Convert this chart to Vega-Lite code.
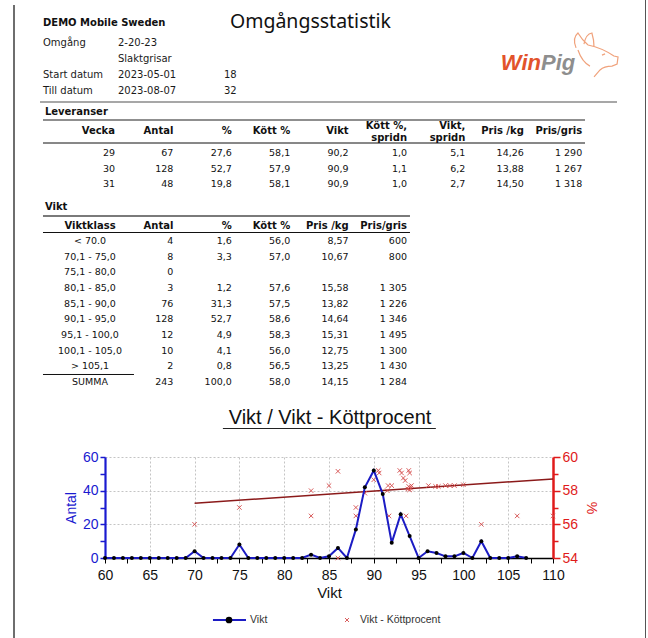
{
"$schema": "https://vega.github.io/schema/vega-lite/v6.json",
"padding": 0,
"spacing": 0,
"bounds": "full",
"config": {
  "view": {"stroke": null},
  "locale": {"number": {"decimal": ",", "thousands": "\u00a0", "grouping": [3], "currency": ["", ""]}}
},
"datasets": {
  "huvud": [
    {"Etikett": "Omgång", "Värde": "2-20-23", "Vecka": null},
    {"Etikett": "", "Värde": "Slaktgrisar", "Vecka": null},
    {"Etikett": "Start datum", "Värde": "2023-05-01", "Vecka": 18},
    {"Etikett": "Till datum", "Värde": "2023-08-07", "Vecka": 32}
  ],
  "leveranser": [
    {"Vecka": 29, "Antal": 67, "%": 27.6, "Kött %": 58.1, "Vikt": 90.2, "Kött %, spridn": 1.0, "Vikt, spridn": 5.1, "Pris /kg": 14.26, "Pris/gris": 1290},
    {"Vecka": 30, "Antal": 128, "%": 52.7, "Kött %": 57.9, "Vikt": 90.9, "Kött %, spridn": 1.1, "Vikt, spridn": 6.2, "Pris /kg": 13.88, "Pris/gris": 1267},
    {"Vecka": 31, "Antal": 48, "%": 19.8, "Kött %": 58.1, "Vikt": 90.9, "Kött %, spridn": 1.0, "Vikt, spridn": 2.7, "Pris /kg": 14.50, "Pris/gris": 1318}
  ],
  "viktklasser": [
    {"Viktklass": "< 70.0", "Antal": 4, "%": 1.6, "Kött %": 56.0, "Pris /kg": 8.57, "Pris/gris": 600},
    {"Viktklass": "70,1 - 75,0", "Antal": 8, "%": 3.3, "Kött %": 57.0, "Pris /kg": 10.67, "Pris/gris": 800},
    {"Viktklass": "75,1 - 80,0", "Antal": 0, "%": null, "Kött %": null, "Pris /kg": null, "Pris/gris": null},
    {"Viktklass": "80,1 - 85,0", "Antal": 3, "%": 1.2, "Kött %": 57.6, "Pris /kg": 15.58, "Pris/gris": 1305},
    {"Viktklass": "85,1 - 90,0", "Antal": 76, "%": 31.3, "Kött %": 57.5, "Pris /kg": 13.82, "Pris/gris": 1226},
    {"Viktklass": "90,1 - 95,0", "Antal": 128, "%": 52.7, "Kött %": 58.6, "Pris /kg": 14.64, "Pris/gris": 1346},
    {"Viktklass": "95,1 - 100,0", "Antal": 12, "%": 4.9, "Kött %": 58.3, "Pris /kg": 15.31, "Pris/gris": 1495},
    {"Viktklass": "100,1 - 105,0", "Antal": 10, "%": 4.1, "Kött %": 56.0, "Pris /kg": 12.75, "Pris/gris": 1300},
    {"Viktklass": "> 105,1", "Antal": 2, "%": 0.8, "Kött %": 56.5, "Pris /kg": 13.25, "Pris/gris": 1430},
    {"Viktklass": "SUMMA", "Antal": 243, "%": 100.0, "Kött %": 58.0, "Pris /kg": 14.15, "Pris/gris": 1284}
  ],
  "viktkurva": [
    {"Vikt": 60, "Antal": 0}, {"Vikt": 61, "Antal": 0}, {"Vikt": 62, "Antal": 0}, {"Vikt": 63, "Antal": 0}, {"Vikt": 64, "Antal": 0},
    {"Vikt": 65, "Antal": 0}, {"Vikt": 66, "Antal": 0}, {"Vikt": 67, "Antal": 0}, {"Vikt": 68, "Antal": 0}, {"Vikt": 69, "Antal": 0},
    {"Vikt": 70, "Antal": 4}, {"Vikt": 71, "Antal": 0}, {"Vikt": 72, "Antal": 0}, {"Vikt": 73, "Antal": 0}, {"Vikt": 74, "Antal": 0},
    {"Vikt": 75, "Antal": 8}, {"Vikt": 76, "Antal": 0}, {"Vikt": 77, "Antal": 0}, {"Vikt": 78, "Antal": 0}, {"Vikt": 79, "Antal": 0},
    {"Vikt": 80, "Antal": 0}, {"Vikt": 81, "Antal": 0}, {"Vikt": 82, "Antal": 0}, {"Vikt": 83, "Antal": 2}, {"Vikt": 84, "Antal": 0},
    {"Vikt": 85, "Antal": 1}, {"Vikt": 86, "Antal": 6}, {"Vikt": 87, "Antal": 0}, {"Vikt": 88, "Antal": 17}, {"Vikt": 89, "Antal": 42},
    {"Vikt": 90, "Antal": 52}, {"Vikt": 91, "Antal": 38}, {"Vikt": 92, "Antal": 9}, {"Vikt": 93, "Antal": 26}, {"Vikt": 94, "Antal": 13},
    {"Vikt": 95, "Antal": 0}, {"Vikt": 96, "Antal": 4}, {"Vikt": 97, "Antal": 3}, {"Vikt": 98, "Antal": 1}, {"Vikt": 99, "Antal": 1},
    {"Vikt": 100, "Antal": 3}, {"Vikt": 101, "Antal": 0}, {"Vikt": 102, "Antal": 10}, {"Vikt": 103, "Antal": 0}, {"Vikt": 104, "Antal": 0},
    {"Vikt": 105, "Antal": 0}, {"Vikt": 106, "Antal": 1}, {"Vikt": 107, "Antal": 0}
  ],
  "kottprocent": [
    {"Vikt": 70, "Kött": 56.0}, {"Vikt": 75, "Kött": 57.0}, {"Vikt": 83, "Kött": 58.0}, {"Vikt": 83, "Kött": 56.5},
    {"Vikt": 85, "Kött": 58.3}, {"Vikt": 86, "Kött": 59.15}, {"Vikt": 86, "Kött": 54.0}, {"Vikt": 88, "Kött": 57.0},
    {"Vikt": 88, "Kött": 56.5}, {"Vikt": 89, "Kött": 57.85}, {"Vikt": 90, "Kött": 58.65}, {"Vikt": 90.5, "Kött": 59.2},
    {"Vikt": 90.6, "Kött": 59.05}, {"Vikt": 91.5, "Kött": 58.0}, {"Vikt": 91.6, "Kött": 58.3}, {"Vikt": 92, "Kött": 58.3},
    {"Vikt": 91.7, "Kött": 56.5}, {"Vikt": 92.9, "Kött": 59.2}, {"Vikt": 93.1, "Kött": 59.05}, {"Vikt": 93.3, "Kött": 58.75},
    {"Vikt": 93.5, "Kött": 58.6}, {"Vikt": 93.6, "Kött": 56.5}, {"Vikt": 93.9, "Kött": 59.2}, {"Vikt": 94, "Kött": 59.05},
    {"Vikt": 93.9, "Kött": 58.25}, {"Vikt": 94.1, "Kött": 58.15}, {"Vikt": 94, "Kött": 58.05}, {"Vikt": 93.8, "Kött": 58.1},
    {"Vikt": 94.2, "Kött": 58.3}, {"Vikt": 96.1, "Kött": 58.3}, {"Vikt": 96.9, "Kött": 58.25}, {"Vikt": 97.2, "Kött": 58.25},
    {"Vikt": 98, "Kött": 58.3}, {"Vikt": 98.5, "Kött": 58.3}, {"Vikt": 99, "Kött": 58.3}, {"Vikt": 100, "Kött": 58.35},
    {"Vikt": 102, "Kött": 56.0}, {"Vikt": 106, "Kött": 56.5}, {"Vikt": 110, "Kött": 56.5}
  ],
  "trend": [
    {"Vikt": 70, "Kött": 57.25}, {"Vikt": 110, "Kött": 58.7}
  ],
  "serier": [
    {"Serie": "Vikt"}, {"Serie": "Vikt - Köttprocent"}
  ]
},
"hconcat": [
  {"width": 13, "height": 638, "data": {"values": []}, "mark": "point"},
  {"vconcat": [
     {"width": 2, "height": 5, "data": {"values": []}, "mark": "point"},
     {"width": 2, "height": 633, "data": {"values": []}, "mark": "point", "view": {"fill": "#6e6e6e", "stroke": null}}
   ], "spacing": 0, "bounds": "flush"},
  {"vconcat": [
    {
      "width": 630, "height": 98,
      "layer": [
        {
          "data": {"name": "huvud"},
          "transform": [
            {"window": [{"op": "row_number", "as": "rad"}]},
            {"fold": ["Etikett", "Värde"], "as": ["falt", "text"]},
            {"filter": "datum.text !== ''"},
            {"calculate": "indexof(['Etikett','Värde'], datum.falt)", "as": "kol"}
          ],
          "mark": {"type": "text", "align": "left", "baseline": "middle", "font": "DejaVu Sans", "fontSize": 10, "color": "#1a1a1a"},
          "encoding": {
            "x": {"field": "kol", "type": "quantitative", "scale": {"domain": [-0.3733, 8.0267], "nice": false, "zero": false}, "axis": null},
            "y": {"field": "rad", "type": "quantitative", "scale": {"domain": [-1.6875, 4.4375], "reverse": true, "nice": false, "zero": false}, "axis": null},
            "text": {"field": "text"}
          }
        },
        {
          "data": {"name": "huvud"},
          "transform": [
            {"window": [{"op": "row_number", "as": "rad"}]},
            {"filter": "isValid(datum.Vecka)"}
          ],
          "mark": {"type": "text", "align": "left", "baseline": "middle", "font": "DejaVu Sans", "fontSize": 10, "color": "#1a1a1a"},
          "encoding": {
            "x": {"datum": 2.413, "type": "quantitative", "scale": {"domain": [-0.3733, 8.0267], "nice": false, "zero": false}, "axis": null},
            "y": {"field": "rad", "type": "quantitative", "scale": {"domain": [-1.6875, 4.4375], "reverse": true, "nice": false, "zero": false}, "axis": null},
            "text": {"field": "Vecka"}
          }
        },
        {
          "data": {"values": [{"Företag": "DEMO Mobile Sweden"}]},
          "mark": {"type": "text", "align": "left", "baseline": "middle", "font": "DejaVu Sans", "fontSize": 10, "fontWeight": "bold", "color": "#111111"},
          "encoding": {
            "x": {"datum": 0, "type": "quantitative", "scale": {"domain": [-0.3733, 8.0267], "nice": false, "zero": false}, "axis": null},
            "y": {"datum": -0.25, "type": "quantitative", "scale": {"domain": [-1.6875, 4.4375], "reverse": true, "nice": false, "zero": false}, "axis": null},
            "text": {"field": "Företag"}
          }
        },
        {
          "data": {"values": [{"Rubrik": "Omgångsstatistik"}]},
          "mark": {"type": "text", "align": "left", "baseline": "middle", "font": "Noto Sans", "fontSize": 19.5, "color": "#111111"},
          "encoding": {
            "x": {"datum": 2.493, "type": "quantitative", "scale": {"domain": [-0.3733, 8.0267], "nice": false, "zero": false}, "axis": null},
            "y": {"datum": -0.3125, "type": "quantitative", "scale": {"domain": [-1.6875, 4.4375], "reverse": true, "nice": false, "zero": false}, "axis": null},
            "text": {"field": "Rubrik"}
          }
        },
        {
          "data": {"values": [{"Logo": "Win"}]},
          "mark": {"type": "text", "align": "right", "baseline": "alphabetic", "font": "Liberation Sans", "fontSize": 22, "fontWeight": "bold", "fontStyle": "italic", "color": "#e2532b"},
          "encoding": {
            "x": {"datum": 6.64, "type": "quantitative", "scale": {"domain": [-0.3733, 8.0267], "nice": false, "zero": false}, "axis": null},
            "y": {"datum": 2.69, "type": "quantitative", "scale": {"domain": [-1.6875, 4.4375], "reverse": true, "nice": false, "zero": false}, "axis": null},
            "text": {"field": "Logo"}
          }
        },
        {
          "data": {"values": [{"Logo": "Pig"}]},
          "mark": {"type": "text", "align": "left", "baseline": "alphabetic", "font": "Liberation Sans", "fontSize": 22, "fontWeight": "bold", "fontStyle": "italic", "color": "#8e8e8e"},
          "encoding": {
            "x": {"datum": 6.64, "type": "quantitative", "scale": {"domain": [-0.3733, 8.0267], "nice": false, "zero": false}, "axis": null},
            "y": {"datum": 2.69, "type": "quantitative", "scale": {"domain": [-1.6875, 4.4375], "reverse": true, "nice": false, "zero": false}, "axis": null},
            "text": {"field": "Logo"}
          }
        },
        {
          "data": {"values": [{"Logo": "gris"}]},
          "mark": {"type": "point", "filled": false, "stroke": "#f0a27c", "strokeWidth": 1.2, "size": 2304, "opacity": 1,
                   "shape": "M-0.79,-0.38Q-0.96,-0.79,-0.71,-1Q-0.54,-0.71,-0.29,-0.5M-0.46,-0.54Q-0.38,-0.96,-0.13,-1Q-0.04,-0.71,-0.04,-0.42M-0.29,-0.5Q0.29,-0.38,0.79,-0.04L0.96,0L0.92,0.29L0.71,0.38Q0.38,0.38,0.21,0.54L-0.04,0.83M-0.71,-0.29Q-0.54,0.21,-0.21,0.38M0.29,-0.08L0.42,-0.13"},
          "encoding": {
            "x": {"datum": 7.36, "type": "quantitative", "scale": {"domain": [-0.3733, 8.0267], "nice": false, "zero": false}, "axis": null},
            "y": {"datum": 1.875, "type": "quantitative", "scale": {"domain": [-1.6875, 4.4375], "reverse": true, "nice": false, "zero": false}, "axis": null}
          }
        }
      ]
    },
    {
      "width": 630, "height": 98,
      "layer": [
        {
          "data": {"values": [{}]},
          "mark": {"type": "rule", "color": "#8a8a8a", "strokeWidth": 1.5},
          "encoding": {
            "x": {"datum": -1.284, "type": "quantitative", "scale": {"domain": [-1.7123, 9.0753], "nice": false, "zero": false}, "axis": null},
            "x2": {"datum": 8.596},
            "y": {"datum": -2.29, "type": "quantitative", "scale": {"domain": [-2.548, 3.774], "reverse": true, "nice": false, "zero": false}, "axis": null}
          }
        },
        {
          "data": {"values": [{}]},
          "mark": {"type": "rule", "color": "#6a6a6a", "strokeWidth": 1.4},
          "encoding": {
            "x": {"datum": -1.233, "type": "quantitative", "scale": {"domain": [-1.7123, 9.0753], "nice": false, "zero": false}, "axis": null},
            "x2": {"datum": 8.048},
            "y": {"datum": -1.129, "type": "quantitative", "scale": {"domain": [-2.548, 3.774], "reverse": true, "nice": false, "zero": false}, "axis": null}
          }
        },
        {
          "data": {"values": [{}]},
          "mark": {"type": "rule", "color": "#111111", "strokeWidth": 1},
          "encoding": {
            "x": {"datum": -1.233, "type": "quantitative", "scale": {"domain": [-1.7123, 9.0753], "nice": false, "zero": false}, "axis": null},
            "x2": {"datum": 8.048},
            "y": {"datum": 0.355, "type": "quantitative", "scale": {"domain": [-2.548, 3.774], "reverse": true, "nice": false, "zero": false}, "axis": null}
          }
        },
        {
          "data": {"values": [{"Avsnitt": "Leveranser"}]},
          "mark": {"type": "text", "align": "left", "baseline": "middle", "font": "DejaVu Sans", "fontSize": 10, "fontWeight": "bold", "color": "#111111"},
          "encoding": {
            "x": {"datum": -1.2, "type": "quantitative", "scale": {"domain": [-1.7123, 9.0753], "nice": false, "zero": false}, "axis": null},
            "y": {"datum": -1.613, "type": "quantitative", "scale": {"domain": [-2.548, 3.774], "reverse": true, "nice": false, "zero": false}, "axis": null},
            "text": {"field": "Avsnitt"}
          }
        },
        {
          "data": {"name": "leveranser"},
          "transform": [
            {"window": [{"op": "row_number", "as": "rad"}]},
            {"filter": "datum.rad === 1"},
            {"fold": ["Vecka", "Antal", "%", "Kött %", "Vikt", "Pris /kg", "Pris/gris"]},
            {"calculate": "indexof(['Vecka','Antal','%','Kött %','Vikt','Kött %, spridn','Vikt, spridn','Pris /kg','Pris/gris'], datum.key)", "as": "kol"}
          ],
          "mark": {"type": "text", "align": "right", "baseline": "middle", "font": "DejaVu Sans", "fontSize": 10, "fontWeight": "bold", "color": "#111111"},
          "encoding": {
            "x": {"field": "kol", "type": "quantitative", "scale": {"domain": [-1.7123, 9.0753], "nice": false, "zero": false}, "axis": null},
            "y": {"datum": -0.42, "type": "quantitative", "scale": {"domain": [-2.548, 3.774], "reverse": true, "nice": false, "zero": false}, "axis": null},
            "text": {"field": "key"}
          }
        },
        {
          "data": {"name": "leveranser"},
          "transform": [
            {"window": [{"op": "row_number", "as": "rad"}]},
            {"filter": "datum.rad === 1"},
            {"fold": ["Kött %, spridn", "Vikt, spridn"]},
            {"calculate": "indexof(['Vecka','Antal','%','Kött %','Vikt','Kött %, spridn','Vikt, spridn','Pris /kg','Pris/gris'], datum.key)", "as": "kol"},
            {"calculate": "replace(datum.key, ', ', ',\\n')", "as": "rubrik"}
          ],
          "mark": {"type": "text", "align": "right", "baseline": "middle", "font": "DejaVu Sans", "fontSize": 10, "fontWeight": "bold", "lineBreak": "\n", "lineHeight": 11.5, "color": "#111111"},
          "encoding": {
            "x": {"field": "kol", "type": "quantitative", "scale": {"domain": [-1.7123, 9.0753], "nice": false, "zero": false}, "axis": null},
            "y": {"datum": -0.71, "type": "quantitative", "scale": {"domain": [-2.548, 3.774], "reverse": true, "nice": false, "zero": false}, "axis": null},
            "text": {"field": "rubrik"}
          }
        },
        {
          "data": {"name": "leveranser"},
          "transform": [
            {"window": [{"op": "row_number", "as": "rad"}]},
            {"fold": ["Vecka", "Antal", "Pris/gris"]},
            {"calculate": "indexof(['Vecka','Antal','%','Kött %','Vikt','Kött %, spridn','Vikt, spridn','Pris /kg','Pris/gris'], datum.key)", "as": "kol"}
          ],
          "mark": {"type": "text", "align": "right", "baseline": "middle", "font": "DejaVu Sans", "fontSize": 9.5, "color": "#111111"},
          "encoding": {
            "x": {"field": "kol", "type": "quantitative", "scale": {"domain": [-1.7123, 9.0753], "nice": false, "zero": false}, "axis": null},
            "y": {"field": "rad", "type": "quantitative", "scale": {"domain": [-2.548, 3.774], "reverse": true, "nice": false, "zero": false}, "axis": null},
            "text": {"field": "value", "type": "quantitative", "format": ",d"}
          }
        },
        {
          "data": {"name": "leveranser"},
          "transform": [
            {"window": [{"op": "row_number", "as": "rad"}]},
            {"fold": ["%", "Kött %", "Vikt", "Kött %, spridn", "Vikt, spridn"]},
            {"calculate": "indexof(['Vecka','Antal','%','Kött %','Vikt','Kött %, spridn','Vikt, spridn','Pris /kg','Pris/gris'], datum.key)", "as": "kol"}
          ],
          "mark": {"type": "text", "align": "right", "baseline": "middle", "font": "DejaVu Sans", "fontSize": 9.5, "color": "#111111"},
          "encoding": {
            "x": {"field": "kol", "type": "quantitative", "scale": {"domain": [-1.7123, 9.0753], "nice": false, "zero": false}, "axis": null},
            "y": {"field": "rad", "type": "quantitative", "scale": {"domain": [-2.548, 3.774], "reverse": true, "nice": false, "zero": false}, "axis": null},
            "text": {"field": "value", "type": "quantitative", "format": ".1f"}
          }
        },
        {
          "data": {"name": "leveranser"},
          "transform": [
            {"window": [{"op": "row_number", "as": "rad"}]},
            {"fold": ["Pris /kg"]},
            {"calculate": "indexof(['Vecka','Antal','%','Kött %','Vikt','Kött %, spridn','Vikt, spridn','Pris /kg','Pris/gris'], datum.key)", "as": "kol"}
          ],
          "mark": {"type": "text", "align": "right", "baseline": "middle", "font": "DejaVu Sans", "fontSize": 9.5, "color": "#111111"},
          "encoding": {
            "x": {"field": "kol", "type": "quantitative", "scale": {"domain": [-1.7123, 9.0753], "nice": false, "zero": false}, "axis": null},
            "y": {"field": "rad", "type": "quantitative", "scale": {"domain": [-2.548, 3.774], "reverse": true, "nice": false, "zero": false}, "axis": null},
            "text": {"field": "value", "type": "quantitative", "format": ".2f"}
          }
        }
      ]
    },
    {
      "width": 630, "height": 196,
      "layer": [
        {
          "data": {"values": [{}]},
          "mark": {"type": "rule", "color": "#7a7a7a", "strokeWidth": 1.8},
          "encoding": {
            "x": {"datum": -1.233, "type": "quantitative", "scale": {"domain": [-1.7123, 9.0753], "nice": false, "zero": false}, "axis": null},
            "x2": {"datum": 5.051},
            "y": {"datum": -0.595, "type": "quantitative", "scale": {"domain": [-1.872, 10.636], "reverse": true, "nice": false, "zero": false}, "axis": null}
          }
        },
        {
          "data": {"values": [{}]},
          "mark": {"type": "rule", "color": "#111111", "strokeWidth": 1},
          "encoding": {
            "x": {"datum": -1.233, "type": "quantitative", "scale": {"domain": [-1.7123, 9.0753], "nice": false, "zero": false}, "axis": null},
            "x2": {"datum": 5.051},
            "y": {"datum": 0.458, "type": "quantitative", "scale": {"domain": [-1.872, 10.636], "reverse": true, "nice": false, "zero": false}, "axis": null}
          }
        },
        {
          "data": {"values": [{}]},
          "mark": {"type": "rule", "color": "#111111", "strokeWidth": 1},
          "encoding": {
            "x": {"datum": -1.233, "type": "quantitative", "scale": {"domain": [-1.7123, 9.0753], "nice": false, "zero": false}, "axis": null},
            "x2": {"datum": 0.325},
            "y": {"datum": 9.519, "type": "quantitative", "scale": {"domain": [-1.872, 10.636], "reverse": true, "nice": false, "zero": false}, "axis": null}
          }
        },
        {
          "data": {"values": [{"Avsnitt": "Vikt"}]},
          "mark": {"type": "text", "align": "left", "baseline": "middle", "font": "DejaVu Sans", "fontSize": 10, "fontWeight": "bold", "color": "#111111"},
          "encoding": {
            "x": {"datum": -1.2, "type": "quantitative", "scale": {"domain": [-1.7123, 9.0753], "nice": false, "zero": false}, "axis": null},
            "y": {"datum": -1.17, "type": "quantitative", "scale": {"domain": [-1.872, 10.636], "reverse": true, "nice": false, "zero": false}, "axis": null},
            "text": {"field": "Avsnitt"}
          }
        },
        {
          "data": {"values": [{"Rubrik": "Viktklass"}]},
          "mark": {"type": "text", "align": "center", "baseline": "middle", "font": "DejaVu Sans", "fontSize": 10, "fontWeight": "bold", "color": "#111111"},
          "encoding": {
            "x": {"datum": -0.428, "type": "quantitative", "scale": {"domain": [-1.7123, 9.0753], "nice": false, "zero": false}, "axis": null},
            "y": {"datum": 0.043, "type": "quantitative", "scale": {"domain": [-1.872, 10.636], "reverse": true, "nice": false, "zero": false}, "axis": null},
            "text": {"field": "Rubrik"}
          }
        },
        {
          "data": {"name": "viktklasser"},
          "transform": [
            {"window": [{"op": "row_number", "as": "rad"}]},
            {"filter": "datum.rad === 1"},
            {"fold": ["Antal", "%", "Kött %", "Pris /kg", "Pris/gris"]},
            {"calculate": "indexof(['Viktklass','Antal','%','Kött %','Pris /kg','Pris/gris'], datum.key)", "as": "kol"}
          ],
          "mark": {"type": "text", "align": "right", "baseline": "middle", "font": "DejaVu Sans", "fontSize": 10, "fontWeight": "bold", "color": "#111111"},
          "encoding": {
            "x": {"field": "kol", "type": "quantitative", "scale": {"domain": [-1.7123, 9.0753], "nice": false, "zero": false}, "axis": null},
            "y": {"datum": 0.043, "type": "quantitative", "scale": {"domain": [-1.872, 10.636], "reverse": true, "nice": false, "zero": false}, "axis": null},
            "text": {"field": "key"}
          }
        },
        {
          "data": {"name": "viktklasser"},
          "transform": [
            {"window": [{"op": "row_number", "as": "rad"}]}
          ],
          "mark": {"type": "text", "align": "center", "baseline": "middle", "font": "DejaVu Sans", "fontSize": 9.5, "color": "#111111"},
          "encoding": {
            "x": {"datum": -0.428, "type": "quantitative", "scale": {"domain": [-1.7123, 9.0753], "nice": false, "zero": false}, "axis": null},
            "y": {"field": "rad", "type": "quantitative", "scale": {"domain": [-1.872, 10.636], "reverse": true, "nice": false, "zero": false}, "axis": null},
            "text": {"field": "Viktklass"}
          }
        },
        {
          "data": {"name": "viktklasser"},
          "transform": [
            {"window": [{"op": "row_number", "as": "rad"}]},
            {"fold": ["Antal", "Pris/gris"]},
            {"filter": "isValid(datum.value)"},
            {"calculate": "indexof(['Viktklass','Antal','%','Kött %','Pris /kg','Pris/gris'], datum.key)", "as": "kol"}
          ],
          "mark": {"type": "text", "align": "right", "baseline": "middle", "font": "DejaVu Sans", "fontSize": 9.5, "color": "#111111"},
          "encoding": {
            "x": {"field": "kol", "type": "quantitative", "scale": {"domain": [-1.7123, 9.0753], "nice": false, "zero": false}, "axis": null},
            "y": {"field": "rad", "type": "quantitative", "scale": {"domain": [-1.872, 10.636], "reverse": true, "nice": false, "zero": false}, "axis": null},
            "text": {"field": "value", "type": "quantitative", "format": ",d"}
          }
        },
        {
          "data": {"name": "viktklasser"},
          "transform": [
            {"window": [{"op": "row_number", "as": "rad"}]},
            {"fold": ["%", "Kött %"]},
            {"filter": "isValid(datum.value)"},
            {"calculate": "indexof(['Viktklass','Antal','%','Kött %','Pris /kg','Pris/gris'], datum.key)", "as": "kol"}
          ],
          "mark": {"type": "text", "align": "right", "baseline": "middle", "font": "DejaVu Sans", "fontSize": 9.5, "color": "#111111"},
          "encoding": {
            "x": {"field": "kol", "type": "quantitative", "scale": {"domain": [-1.7123, 9.0753], "nice": false, "zero": false}, "axis": null},
            "y": {"field": "rad", "type": "quantitative", "scale": {"domain": [-1.872, 10.636], "reverse": true, "nice": false, "zero": false}, "axis": null},
            "text": {"field": "value", "type": "quantitative", "format": ".1f"}
          }
        },
        {
          "data": {"name": "viktklasser"},
          "transform": [
            {"window": [{"op": "row_number", "as": "rad"}]},
            {"fold": ["Pris /kg"]},
            {"filter": "isValid(datum.value)"},
            {"calculate": "indexof(['Viktklass','Antal','%','Kött %','Pris /kg','Pris/gris'], datum.key)", "as": "kol"}
          ],
          "mark": {"type": "text", "align": "right", "baseline": "middle", "font": "DejaVu Sans", "fontSize": 9.5, "color": "#111111"},
          "encoding": {
            "x": {"field": "kol", "type": "quantitative", "scale": {"domain": [-1.7123, 9.0753], "nice": false, "zero": false}, "axis": null},
            "y": {"field": "rad", "type": "quantitative", "scale": {"domain": [-1.872, 10.636], "reverse": true, "nice": false, "zero": false}, "axis": null},
            "text": {"field": "value", "type": "quantitative", "format": ".2f"}
          }
        }
      ]
    },
    {
      "width": 630, "height": 65,
      "layer": [
        {
          "data": {"values": [{"Diagramrubrik": "Vikt / Vikt - Köttprocent"}]},
          "mark": {"type": "text", "align": "center", "baseline": "middle", "font": "Liberation Sans", "fontSize": 20, "color": "#111111"},
          "encoding": {
            "x": {"datum": 0.5, "type": "quantitative", "scale": {"domain": [0, 1], "nice": false, "zero": false}, "axis": null},
            "y": {"datum": 0.4, "type": "quantitative", "scale": {"domain": [0, 1], "reverse": true, "nice": false, "zero": false}, "axis": null},
            "text": {"field": "Diagramrubrik"}
          }
        },
        {
          "data": {"values": [{}]},
          "mark": {"type": "rule", "color": "#222222", "strokeWidth": 1.2},
          "encoding": {
            "x": {"datum": 0.33, "type": "quantitative", "scale": {"domain": [0, 1], "nice": false, "zero": false}, "axis": null},
            "x2": {"datum": 0.668},
            "y": {"datum": 0.5615, "type": "quantitative", "scale": {"domain": [0, 1], "reverse": true, "nice": false, "zero": false}, "axis": null}
          }
        }
      ]
    },
    {
      "hconcat": [
        {"width": 90, "height": 101, "data": {"values": []}, "mark": "point"},
        {
          "width": 448, "height": 101,
          "encoding": {
            "x": {
              "field": "Vikt", "type": "quantitative",
              "scale": {"domain": [60, 110], "nice": false, "zero": false},
              "axis": {
                "values": [60, 62.5, 65, 67.5, 70, 72.5, 75, 77.5, 80, 82.5, 85, 87.5, 90, 92.5, 95, 97.5, 100, 102.5, 105, 107.5, 110],
                "labelExpr": "datum.value % 5 === 0 ? datum.label : ''",
                "title": "Vikt", "titleFont": "Liberation Sans", "titleFontSize": 15, "titleFontWeight": "normal", "titleColor": "#111111", "titlePadding": 3,
                "labelFont": "Liberation Sans", "labelFontSize": 14, "labelColor": "#111111", "labelPadding": 5, "labelFlush": false, "labelOverlap": false,
                "domainColor": "#000000", "domainWidth": 1.5,
                "tickColor": "#000000", "tickWidth": 1, "tickSize": 5,
                "grid": true, "gridColor": "#c4c4c4", "gridDash": [2, 2], "gridWidth": 1,
                "gridOpacity": {"condition": {"test": "datum.value % 5 === 0", "value": 1}, "value": 0}
              }
            }
          },
          "layer": [
            {
              "encoding": {
                "y": {
                  "field": "Kött", "type": "quantitative",
                  "scale": {"domain": [54, 60], "nice": false, "zero": false},
                  "axis": {
                    "orient": "right", "values": [54, 55, 56, 57, 58, 59, 60],
                    "labelExpr": "datum.value % 2 === 0 ? datum.label : ''",
                    "title": "%", "titleColor": "#e01b1b", "titleFont": "Liberation Sans", "titleFontSize": 14, "titleFontWeight": "normal", "titlePadding": 6,
                    "labelColor": "#e01b1b", "labelFont": "Liberation Sans", "labelFontSize": 14, "labelPadding": 2, "labelOverlap": false,
                    "domainColor": "#e01b1b", "domainWidth": 2.5,
                    "tickColor": "#e01b1b", "tickWidth": 1.5,
                    "tickSize": {"condition": {"test": "datum.value % 2 === 0", "value": 7}, "value": 5},
                    "grid": false
                  }
                }
              },
              "layer": [
                {
                  "data": {"name": "trend"},
                  "mark": {"type": "line", "color": "#8b1a1a", "strokeWidth": 1.5}
                },
                {
                  "data": {"name": "kottprocent"},
                  "mark": {"type": "point", "shape": "M-1,-1L1,1M1,-1L-1,1", "filled": false, "color": "#d44a4a", "strokeWidth": 0.9, "size": 20, "opacity": 1}
                }
              ]
            },
            {
              "data": {"name": "viktkurva"},
              "encoding": {
                "y": {
                  "field": "Antal", "type": "quantitative",
                  "scale": {"domain": [0, 60], "nice": false, "zero": false},
                  "axis": {
                    "orient": "left", "values": [0, 10, 20, 30, 40, 50, 60],
                    "labelExpr": "datum.value % 20 === 0 ? datum.label : ''",
                    "title": "Antal", "titleColor": "#1a1ad0", "titleFont": "Liberation Sans", "titleFontSize": 14, "titleFontWeight": "normal", "titlePadding": 4,
                    "labelColor": "#1a1ad0", "labelFont": "Liberation Sans", "labelFontSize": 14, "labelPadding": 2, "labelOverlap": false,
                    "domainColor": "#1a1ad0", "domainWidth": 2.2,
                    "tickColor": "#1a1ad0", "tickWidth": 1.5, "tickSize": 5,
                    "grid": true, "gridColor": "#c4c4c4", "gridDash": [2, 2], "gridWidth": 1,
                    "gridOpacity": {"condition": {"test": "datum.value % 20 === 0 && datum.value > 0", "value": 1}, "value": 0}
                  }
                }
              },
              "layer": [
                {"mark": {"type": "line", "color": "#1c1cc4", "strokeWidth": 2}},
                {"mark": {"type": "point", "filled": true, "color": "#000000", "size": 16, "opacity": 1}}
              ]
            }
          ],
          "resolve": {"scale": {"y": "independent"}}
        }
      ],
      "spacing": 0, "bounds": "flush"
    },
    {
      "width": 630, "height": 181,
      "layer": [
        {
          "data": {"values": [{}]},
          "mark": {"type": "rule", "color": "#1c1cc4", "strokeWidth": 2},
          "encoding": {
            "x": {"datum": 0.864, "type": "quantitative", "scale": {"domain": [-0.8136, 4.5254], "nice": false, "zero": false}, "axis": null},
            "x2": {"datum": 1.144},
            "y": {"datum": 0.9006, "type": "quantitative", "scale": {"domain": [0, 1], "reverse": true, "nice": false, "zero": false}, "axis": null}
          }
        },
        {
          "data": {"name": "serier"},
          "transform": [{"filter": "datum.Serie === 'Vikt'"}],
          "mark": {"type": "point", "filled": true, "color": "#000000", "size": 45, "opacity": 1},
          "encoding": {
            "x": {"datum": 1, "type": "quantitative", "scale": {"domain": [-0.8136, 4.5254], "nice": false, "zero": false}, "axis": null},
            "y": {"datum": 0.9006, "type": "quantitative", "scale": {"domain": [0, 1], "reverse": true, "nice": false, "zero": false}, "axis": null}
          }
        },
        {
          "data": {"name": "serier"},
          "transform": [{"filter": "datum.Serie === 'Vikt - Köttprocent'"}],
          "mark": {"type": "point", "shape": "M-1,-1L1,1M1,-1L-1,1", "filled": false, "color": "#d44a4a", "strokeWidth": 0.9, "size": 16, "opacity": 1},
          "encoding": {
            "x": {"datum": 2, "type": "quantitative", "scale": {"domain": [-0.8136, 4.5254], "nice": false, "zero": false}, "axis": null},
            "y": {"datum": 0.9006, "type": "quantitative", "scale": {"domain": [0, 1], "reverse": true, "nice": false, "zero": false}, "axis": null}
          }
        },
        {
          "data": {"name": "serier"},
          "transform": [{"filter": "datum.Serie === 'Vikt'"}],
          "mark": {"type": "text", "align": "left", "baseline": "middle", "font": "Liberation Sans", "fontSize": 10.5, "color": "#333333"},
          "encoding": {
            "x": {"datum": 1.178, "type": "quantitative", "scale": {"domain": [-0.8136, 4.5254], "nice": false, "zero": false}, "axis": null},
            "y": {"datum": 0.9006, "type": "quantitative", "scale": {"domain": [0, 1], "reverse": true, "nice": false, "zero": false}, "axis": null},
            "text": {"field": "Serie"}
          }
        },
        {
          "data": {"name": "serier"},
          "transform": [{"filter": "datum.Serie === 'Vikt - Köttprocent'"}],
          "mark": {"type": "text", "align": "left", "baseline": "middle", "font": "Liberation Sans", "fontSize": 10.5, "color": "#333333"},
          "encoding": {
            "x": {"datum": 2.11, "type": "quantitative", "scale": {"domain": [-0.8136, 4.5254], "nice": false, "zero": false}, "axis": null},
            "y": {"datum": 0.9006, "type": "quantitative", "scale": {"domain": [0, 1], "reverse": true, "nice": false, "zero": false}, "axis": null},
            "text": {"field": "Serie"}
          }
        }
      ]
    }
  ], "spacing": 0, "bounds": "flush"},
  {"width": 1, "height": 638, "data": {"values": []}, "mark": "point", "view": {"fill": "#555555", "stroke": null}}
]
}
